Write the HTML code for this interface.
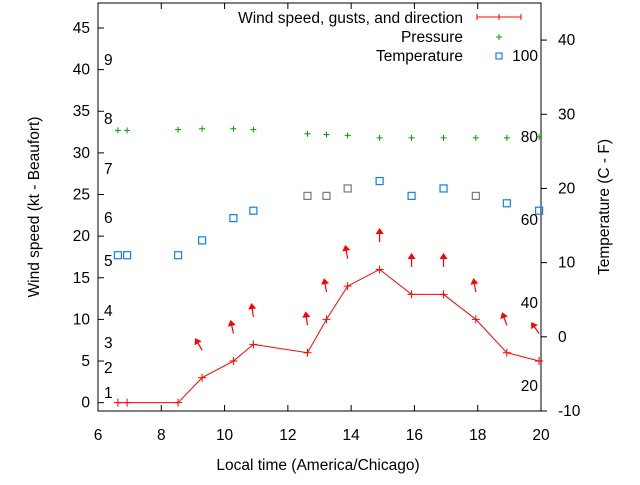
<!DOCTYPE html>
<html><head><meta charset="utf-8"><style>
body{margin:0;background:#fff}
svg text{font-family:"Liberation Sans",sans-serif;font-size:15.5px;fill:#000}
</style></head><body>
<svg width="640" height="480" xmlns="http://www.w3.org/2000/svg">
<g id="axes"></g><g id="marks"></g><g id="legend"></g>
<text x="318" y="470" text-anchor="middle">Local time (America/Chicago)</text>
<text transform="translate(39,207) rotate(-90)" text-anchor="middle">Wind speed (kt - Beaufort)</text>
<text transform="translate(609,207) rotate(-90)" text-anchor="middle">Temperature (C - F)</text>
</svg>
<script>
const hours=[6.63,6.92,8.53,9.29,10.28,10.91,12.62,13.22,13.89,14.9,15.91,16.92,17.94,18.92,19.94];
const wind=[0,0,0,3,5,7,6,10,14,16,13,13,10,6,5];
const windDir=[0,0,0,-30,-12,-8,-8,-10,-10,0,0,0,-10,-20,-35];
const pressure=[32.7,32.7,32.8,32.9,32.9,32.8,32.3,32.2,32.1,31.8,31.8,31.8,31.8,31.8,31.9];
const temp=[11,11,11,13,16,17,19,19,20,21,19,20,19,18,17];
const tempGray=[0,0,0,0,0,0,1,1,1,0,0,0,1,0,0];
const xTicks=[6,8,10,12,14,16,18,20];
const yTicks=[0,5,10,15,20,25,30,35,40,45];
const y2Ticks=[-10,0,10,20,30,40];
const beaufort=[["1",393],["2",368],["3",343],["4",311],["5",261],["6",218],["7",169],["8",119],["9",60]];
const fahr=[["100",56],["80",137],["60",220],["40",303],["20",386]];
const L=98,R=541,T=3,B=411;
const X=h=>L+(h-6)/14*(R-L);
const Y=v=>B-(v+1)/49*(B-T);
const Y2=t=>B-(t+10)/55*(B-T);
const NS="http://www.w3.org/2000/svg";
function mk(tag,attrs,parent,txt){const e=document.createElementNS(NS,tag);for(const k in attrs)e.setAttribute(k,attrs[k]);if(txt!==undefined)e.textContent=txt;parent.appendChild(e);return e;}
const ax=document.getElementById('axes'),mg=document.getElementById('marks'),lg=document.getElementById('legend');
let f=mk('rect',{x:L,y:T,width:R-L,height:B-T,fill:'none',stroke:'#000','stroke-width':1},ax);


xTicks.forEach(t=>{const x=X(t);
 mk('line',{x1:x,x2:x,y1:B,y2:B-6,stroke:'#000'},ax);mk('line',{x1:x,x2:x,y1:T,y2:T+6,stroke:'#000'},ax);
 const e=mk('text',{x:x,y:B+29,'text-anchor':'middle'},ax,t);
 
 });
yTicks.forEach(t=>{const y=Y(t);
 mk('line',{x1:L,x2:L+6,y1:y,y2:y,stroke:'#000'},ax);
 const e=mk('text',{x:L-8,y:y+5,'text-anchor':'end'},ax,t);
 
 });
y2Ticks.forEach(t=>{const y=Y2(t);
 mk('line',{x1:R,x2:R+6,y1:y,y2:y,stroke:'#000'},ax);
 const e=mk('text',{x:R+17,y:y+5},ax,t);
 
 });
beaufort.forEach(b=>{const e=mk('text',{x:104,y:b[1]+5},ax,b[0]);
 
 });
fahr.forEach(b=>{const e=mk('text',{x:538,y:b[1]+5,'text-anchor':'end'},ax,b[0]);
 
 });
hours.forEach((h,i)=>{const x=X(h),y=Y(pressure[i]);
 const g=mk('path',{d:`M${x-3} ${y}H${x+3}M${x} ${y-3}V${y+3}`,stroke:'#00a000'},mg);
 
 });
hours.forEach((h,i)=>{const x=X(h),y=Y2(temp[i]);
 const r=mk('rect',{x:x-3.5,y:y-3.5,width:7,height:7,fill:'none',stroke:tempGray[i]?'#777':'#1080f0','stroke-width':1.2},mg);
 
 });
const pl=mk('polyline',{points:hours.map((h,i)=>X(h)+','+Y(wind[i])).join(' '),fill:'none',stroke:'#f00','stroke-width':1},mg);


hours.forEach((h,i)=>{const x=X(h),y=Y(wind[i]);
 const p=mk('path',{d:`M${x-4} ${y}H${x+4}M${x} ${y-4}V${y+4}`,stroke:'#f00'},mg);
 
 
 if(wind[i]>0){const ty=Y(wind[i]+3.3);
  const g=mk('g',{transform:`translate(${x},${ty}) rotate(${windDir[i]})`},mg);
  
  
  mk('line',{x1:0,y1:0,x2:0,y2:-10,stroke:'#f00','stroke-width':1.2},g);
  mk('path',{d:'M-4 -8L0 -14L4 -8Z',fill:'#f00'},g);}
});
const lt=[["Wind speed, gusts, and direction",18],["Pressure",37],["Temperature",56]];
lt.forEach((l,i)=>{const e=mk('text',{x:463,y:l[1]+5,'text-anchor':'end'},lg,l[0]);
 
 });
mk('path',{d:'M477 17H521M477 14V20M499 14V20M521 14V20',stroke:'#f00'},lg);
mk('path',{d:'M496 37H502M499 34V40',stroke:'#00a000'},lg);
mk('rect',{x:496,y:53,width:6,height:6,fill:'none',stroke:'#1080f0','stroke-width':1.2},lg);
</script>
</body></html>
